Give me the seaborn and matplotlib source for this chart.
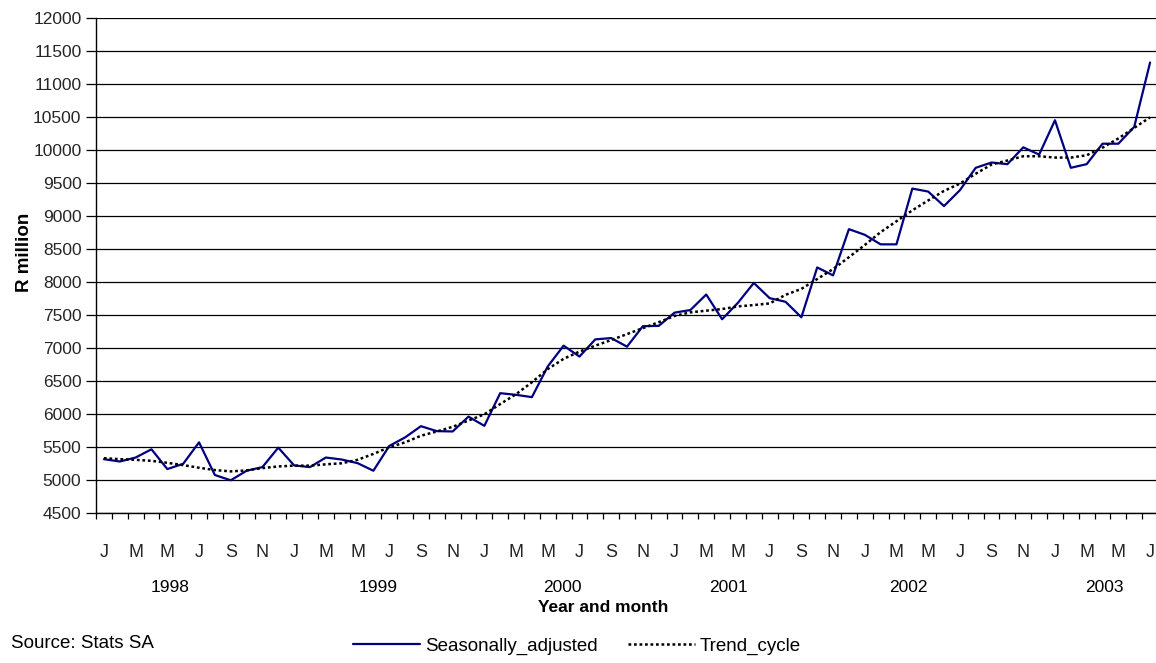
import numpy as np
import pandas as pd
import matplotlib
matplotlib.use("Agg")
import matplotlib.pyplot as plt
import seaborn as sns

# ---- data ----
month_letters = ["J", "F", "M", "A", "M", "J", "J", "A", "S", "O", "N", "D"]
years = ["1998", "1999", "2000", "2001", "2002", "2003"]
n_months = 67  # Jan 1998 .. Jul 2003

seasonally_adjusted = [
    5320, 5285, 5345, 5470, 5170, 5250, 5575, 5080, 5000, 5145, 5200, 5495,   # 1998
    5225, 5200, 5345, 5315, 5260, 5145, 5520, 5650, 5820, 5745, 5740, 5965,   # 1999
    5825, 6320, 6295, 6260, 6725, 7040, 6875, 7135, 7155, 7025, 7335, 7340,   # 2000
    7540, 7580, 7815, 7440, 7690, 7990, 7760, 7705, 7470, 8225, 8105, 8805,   # 2001
    8720, 8575, 8575, 9420, 9375, 9155, 9395, 9735, 9815, 9790, 10045, 9935,  # 2002
    10455, 9735, 9790, 10100, 10100, 10355, 11330,                            # 2003
]
trend_cycle = [
    5335, 5320, 5310, 5295, 5265, 5230, 5190, 5155, 5135, 5150, 5185, 5210,
    5222, 5222, 5242, 5258, 5310, 5400, 5500, 5575, 5675, 5740, 5810, 5905,
    6000, 6155, 6305, 6485, 6685, 6840, 6950, 7040, 7125, 7215, 7305, 7395,
    7490, 7545, 7570, 7595, 7635, 7655, 7680, 7810, 7900, 8050, 8200, 8380,
    8565, 8760, 8925, 9090, 9240, 9385, 9495, 9645, 9785, 9845, 9910, 9910,
    9890, 9890, 9925, 10040, 10180, 10340, 10500,
]
year_label_pos = [4.16, 17.29, 28.9, 39.37, 50.73, 63.09]  # centre positions (category units)

df = pd.DataFrame({
    "idx": np.arange(n_months),
    "Seasonally_adjusted": seasonally_adjusted,
    "Trend_cycle": trend_cycle,
})

# ---- style ----
sns.set_theme(style="white")
plt.rcParams["font.family"] = ["Liberation Sans", "DejaVu Sans"]
plt.rcParams["text.color"] = "black"

W, H = 1156, 663
fig = plt.figure(figsize=(W / 100, H / 100), dpi=100)
fig.patch.set_facecolor("white")

left_px, right_px, top_px, bottom_px = 96, 1158, 18.3, 513.3
ax = fig.add_axes([left_px / W, 1 - bottom_px / H,
                   (right_px - left_px) / W, (bottom_px - top_px) / H])
ax.set_facecolor("white")

sns.lineplot(data=df, x="idx", y="Seasonally_adjusted", ax=ax, color="#000080",
             linewidth=1.6, legend=False, label="Seasonally_adjusted", zorder=3)
sns.lineplot(data=df, x="idx", y="Trend_cycle", ax=ax, color="black",
             linewidth=1.8, linestyle=(0, (1.1, 1.1)), legend=False,
             label="Trend_cycle", zorder=4)

ax.set_xlim(-0.5, n_months - 0.5)
ax.set_ylim(4500, 12000)
ax.set_yticks(np.arange(4500, 12001, 500))
ax.yaxis.grid(True, color="black", linewidth=0.9)
ax.xaxis.grid(False)
ax.set_axisbelow(True)

major = np.arange(0, n_months, 2)
ax.set_xticks(major)
ax.set_xticklabels([month_letters[k % 12] for k in major], fontsize=13)
ax.set_xticks(np.arange(-0.5, n_months, 1.0), minor=True)
ax.tick_params(axis="x", which="major", length=0, pad=22)
ax.tick_params(axis="x", which="minor", length=4.3, width=0.9, color="black",
               direction="out", bottom=True)
ax.tick_params(axis="y", which="major", length=7.5, width=0.9, color="black",
               direction="out", left=True, pad=3, labelsize=12.5)

for s in ["top", "right"]:
    ax.spines[s].set_visible(False)
for s in ["left", "bottom"]:
    ax.spines[s].set_color("black")
    ax.spines[s].set_linewidth(1.0)

ax.set_xlabel("")
ax.set_ylabel("")

# year labels (second level of the category axis)
trans = ax.get_xaxis_transform()
for y, p in zip(years, year_label_pos):
    ax.annotate(y, xy=(p, 0), xycoords=trans, xytext=(0, -(587 - bottom_px) * 72 / 100),
                textcoords="offset points", ha="center", va="center", fontsize=12.5,
                annotation_clip=False)

fig.text(603 / W, 1 - 607 / H, "Year and month", ha="center", va="center",
         fontsize=12.5, fontweight="bold")
fig.text(25 / W, 1 - 252 / H, "R million", ha="center", va="center",
         fontsize=13.5, fontweight="bold", rotation=90)
fig.text(11 / W, 1 - 643 / H, "Source: Stats SA", ha="left", va="center",
         fontsize=13.5)

handles = ax.lines[:2]
fig.legend(handles, ["Seasonally_adjusted", "Trend_cycle"], loc="center",
           bbox_to_anchor=(577 / W, 1 - 646 / H), ncol=2, frameon=False,
           handlelength=3.6, handletextpad=0.25, columnspacing=1.6,
           fontsize=13.5, borderpad=0, borderaxespad=0)

fig.savefig("out.png", dpi=100, facecolor="white")
